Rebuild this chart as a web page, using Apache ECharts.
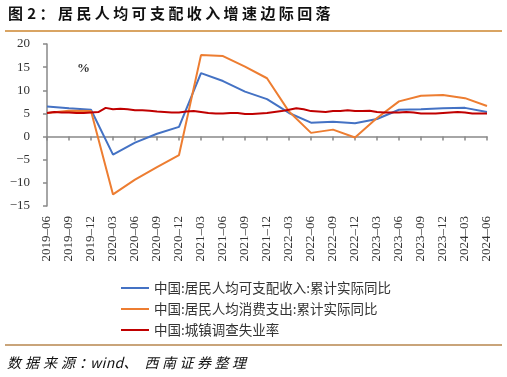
<!DOCTYPE html>
<html>
<head>
<meta charset="utf-8">
<script src="https://cdn.jsdelivr.net/npm/echarts@6/dist/echarts.min.js"></script>
<style>
html,body{margin:0;padding:0;background:#fff;}
#wrap{position:relative;width:507px;height:377px;overflow:hidden;}
#chart{position:absolute;left:0;top:0;width:507px;height:377px;}
#title{position:absolute;left:8px;top:3px;font-family:"Noto Sans CJK SC";font-weight:bold;font-size:15px;letter-spacing:3.4px;color:#111;white-space:nowrap;line-height:20px;}
#rule1{position:absolute;left:5px;top:30px;width:497px;height:2px;background:#D9A463;}
#rule2{position:absolute;left:5px;top:344px;width:497px;height:2px;background:#C9A47A;}
#source{position:absolute;left:7px;top:353px;font-family:"Noto Sans CJK SC";font-style:italic;font-size:14px;color:#111;white-space:nowrap;line-height:18px;}
</style>
</head>
<body>
<div id="wrap">
<div id="chart"></div>
<div id="title">图<span style="font-size:4px;letter-spacing:0"> </span>2：居民人均可支配收入增速边际回落</div>
<div id="rule1"></div>
<div id="rule2"></div>
<div id="source"><span style="letter-spacing:4px">数据来源</span><span style="letter-spacing:-3px">：</span><span style="letter-spacing:0.3px">wind</span><span style="letter-spacing:7px">、</span><span style="letter-spacing:3.5px">西南证券整理</span></div>
</div>
<script>
// Monthly categories (x axis)
var months = [
  '2019-06','2019-07','2019-08','2019-09','2019-10','2019-11','2019-12',
  '2020-01','2020-02','2020-03','2020-04','2020-05','2020-06','2020-07','2020-08','2020-09','2020-10','2020-11','2020-12',
  '2021-01','2021-02','2021-03','2021-04','2021-05','2021-06','2021-07','2021-08','2021-09','2021-10','2021-11','2021-12',
  '2022-01','2022-02','2022-03','2022-04','2022-05','2022-06','2022-07','2022-08','2022-09','2022-10','2022-11','2022-12',
  '2023-01','2023-02','2023-03','2023-04','2023-05','2023-06','2023-07','2023-08','2023-09','2023-10','2023-11','2023-12',
  '2024-01','2024-02','2024-03','2024-04','2024-05','2024-06'
];
// Quarterly dates for the two cumulative series
var quarters = [
  '2019-06','2019-09','2019-12','2020-03','2020-06','2020-09','2020-12',
  '2021-03','2021-06','2021-09','2021-12','2022-03','2022-06','2022-09','2022-12',
  '2023-03','2023-06','2023-09','2023-12','2024-03','2024-06'
];
var incomeYoY = [6.5, 6.1, 5.8, -3.9, -1.3, 0.6, 2.1, 13.7, 12.0, 9.7, 8.1, 5.1, 3.0, 3.2, 2.9, 3.8, 5.8, 5.9, 6.1, 6.2, 5.3];
var consumptionYoY = [5.1, 5.6, 5.5, -12.5, -9.3, -6.6, -4.0, 17.6, 17.4, 15.1, 12.6, 5.4, 0.8, 1.5, -0.2, 4.0, 7.6, 8.8, 9.0, 8.3, 6.6];
var unemployment = [
  5.1, 5.3, 5.2, 5.2, 5.1, 5.1, 5.2,
  5.3, 6.2, 5.9, 6.0, 5.9, 5.7, 5.7, 5.6, 5.4, 5.3, 5.2, 5.2,
  5.4, 5.5, 5.3, 5.1, 5.0, 5.0, 5.1, 5.1, 4.9, 4.9, 5.0, 5.1,
  5.3, 5.5, 5.8, 6.1, 5.9, 5.5, 5.4, 5.3, 5.5, 5.5, 5.7, 5.5,
  5.5, 5.6, 5.3, 5.2, 5.2, 5.2, 5.3, 5.2, 5.0, 5.0, 5.0, 5.1,
  5.2, 5.3, 5.2, 5.0, 5.0, 5.0
];
var seriesNames = ['中国:居民人均可支配收入:累计实际同比', '中国:居民人均消费支出:累计实际同比', '中国:城镇调查失业率'];
var yTicks = {min: -15, max: 20, interval: 5};

function pairs(keys, vals) {
  return keys.map(function (k, i) { return [k, vals[i]]; });
}

var chart = echarts.init(document.getElementById('chart'), null, {renderer: 'canvas'});
var axisGray = '#898989';
var labelFont = '"Liberation Serif", "Times New Roman", serif';

chart.setOption({
  animation: false,
  backgroundColor: 'transparent',
  grid: {left: 47, right: 20, top: 44, bottom: 171, containLabel: false},
  legend: {
    orient: 'vertical',
    left: 121,
    top: 281,
    padding: 0,
    icon: 'rect',
    itemWidth: 28,
    itemHeight: 2,
    itemGap: 7,
    textStyle: {fontFamily: '"Noto Sans CJK SC"', fontSize: 13.5, color: '#333', lineHeight: 14},
    data: seriesNames
  },
  xAxis: [{
    type: 'category',
    data: months,
    boundaryGap: false,
    axisLine: {onZero: true, lineStyle: {color: axisGray, width: 1.5}},
    axisTick: {show: true, interval: 2, length: 4, lineStyle: {color: axisGray, width: 1.5}},
    axisLabel: {show: false},
    splitLine: {show: false}
  }, {
    type: 'category',
    data: months,
    boundaryGap: false,
    position: 'bottom',
    axisLine: {show: false, onZero: false},
    axisTick: {show: false},
    axisLabel: {
      show: true, interval: 2, rotate: 90, margin: 10,
      fontFamily: labelFont, fontSize: 13, color: '#333',
      formatter: function (v) { return v.replace('-', '\u2013'); }
    },
    splitLine: {show: false}
  }],
  yAxis: {
    type: 'value',
    min: yTicks.min, max: yTicks.max, interval: yTicks.interval,
    axisLine: {show: true, lineStyle: {color: axisGray, width: 1.5}},
    axisTick: {show: true, length: 4, lineStyle: {color: axisGray, width: 1.5}},
    axisLabel: {
      margin: 17, fontFamily: labelFont, fontSize: 13, color: '#333',
      formatter: function (v) { return String(v).replace('-', '\u2212'); }
    },
    splitLine: {show: false}
  },
  graphic: [{
    type: 'text', left: 77, top: 62,
    style: {text: '%', font: 'bold 13px "Liberation Serif", serif', fill: '#333'}
  }],
  series: [{
    name: seriesNames[0], type: 'line', xAxisIndex: 0,
    data: pairs(quarters, incomeYoY),
    symbol: 'none', lineStyle: {color: '#4472C4', width: 2}, itemStyle: {color: '#4472C4'}
  }, {
    name: seriesNames[1], type: 'line', xAxisIndex: 0,
    data: pairs(quarters, consumptionYoY),
    symbol: 'none', lineStyle: {color: '#ED7D31', width: 2}, itemStyle: {color: '#ED7D31'}
  }, {
    name: seriesNames[2], type: 'line', xAxisIndex: 0,
    data: pairs(months, unemployment),
    symbol: 'none', lineStyle: {color: '#C00000', width: 2}, itemStyle: {color: '#C00000'}
  }]
});
</script>
</body>
</html>
